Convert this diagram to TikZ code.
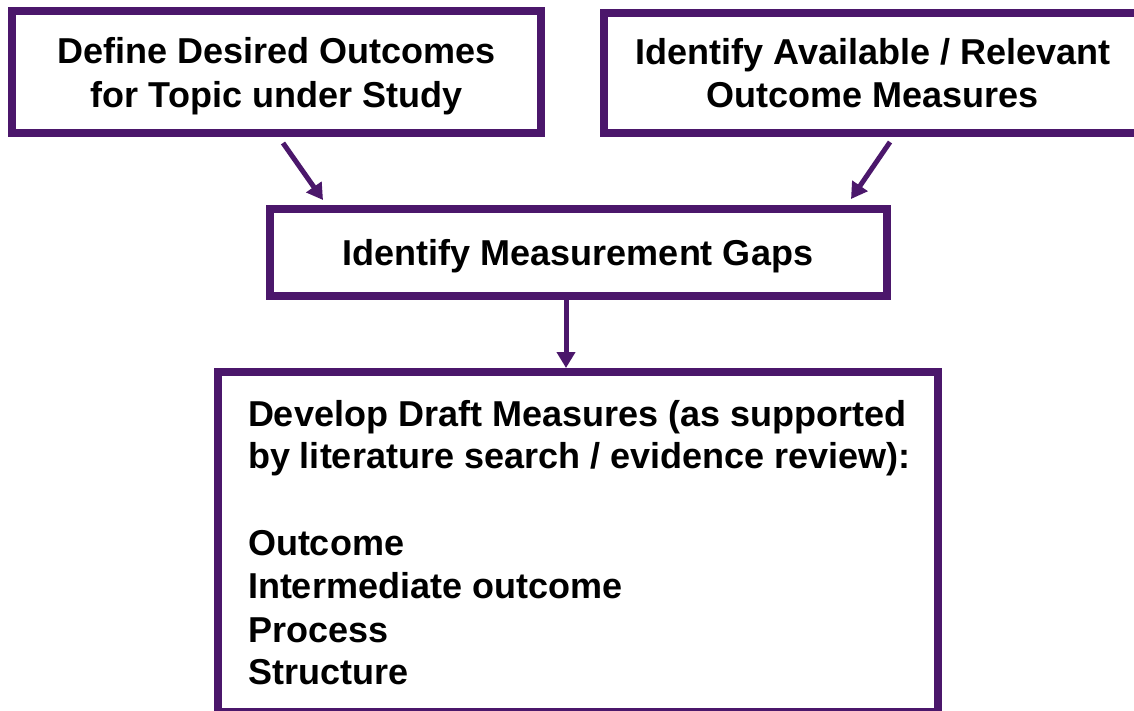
\documentclass[tikz,border=0pt]{standalone}
\usepackage{fontspec}
\setmainfont{Liberation Sans}
\usetikzlibrary{arrows.meta,calc}
\definecolor{boxpurple}{RGB}{75,23,107}
\begin{document}
\begin{tikzpicture}[x=1pt,y=-1pt,
  box/.style={draw=boxpurple, line width=8pt, rectangle, inner sep=0pt, outer sep=0pt, fill=white},
  txt/.style={font=\fontsize{36}{43}\selectfont\bfseries, inner sep=0pt, outer sep=0pt, text=black},
  arr/.style={draw=boxpurple, line width=5pt, -{Triangle[length=16pt,width=18pt]}}]
\useasboundingbox (0,0) rectangle (1134,710);
\fill[white] (0,0) rectangle (1134,710);
% boxes
\node[box, minimum width=529pt, minimum height=122pt] (b1) at (276.5,72) {};
\node[box, minimum width=538pt, minimum height=120pt] (b2) at (873,73) {};
\node[box, minimum width=617pt, minimum height=86.5pt] (b3) at (578,252.25) {};
\node[box, minimum width=720pt, minimum height=340pt] (b4) at (578,542) {};
% texts
\node[txt, anchor=base] (t1a) at (276.5,63) {Define Desired Outcomes};
\node[txt, anchor=base] (t1b) at (276.5,107) {for Topic under Study};
\node[txt, anchor=base] (t2a) at (873,64) {Identify Available / Relevant};
\node[txt, anchor=base] (t2b) at (873,107) {Outcome Measures};
\node[txt, anchor=base] (t3) at (578,265) {Identify Measurement Gaps};
\node[txt, anchor=base west] (t4a) at (248,426) {Develop Draft Measures (as supported};
\node[txt, anchor=base west] (t4b) at (248,468) {by literature search / evidence review):};
\node[txt, anchor=base west] (t4c) at (248,555) {Outcome};
\node[txt, anchor=base west] (t4d) at (248,598) {Intermediate outcome};
\node[txt, anchor=base west] (t4e) at (248,642) {Process};
\node[txt, anchor=base west] (t4f) at (248,684) {Structure};
% connectors
\draw[arr] ($(b1.south)+(6.5,10)$) -- ($(b3.north)+(-255,-9)$);
\draw[arr] ($(b2.south)+(17,9)$) -- ($(b3.north)+(273,-10)$);
\draw[arr] ($(b3.south)+(-12,2.5)$) -- ($(b4.north)+(-12,-4)$);
\end{tikzpicture}
\end{document}
